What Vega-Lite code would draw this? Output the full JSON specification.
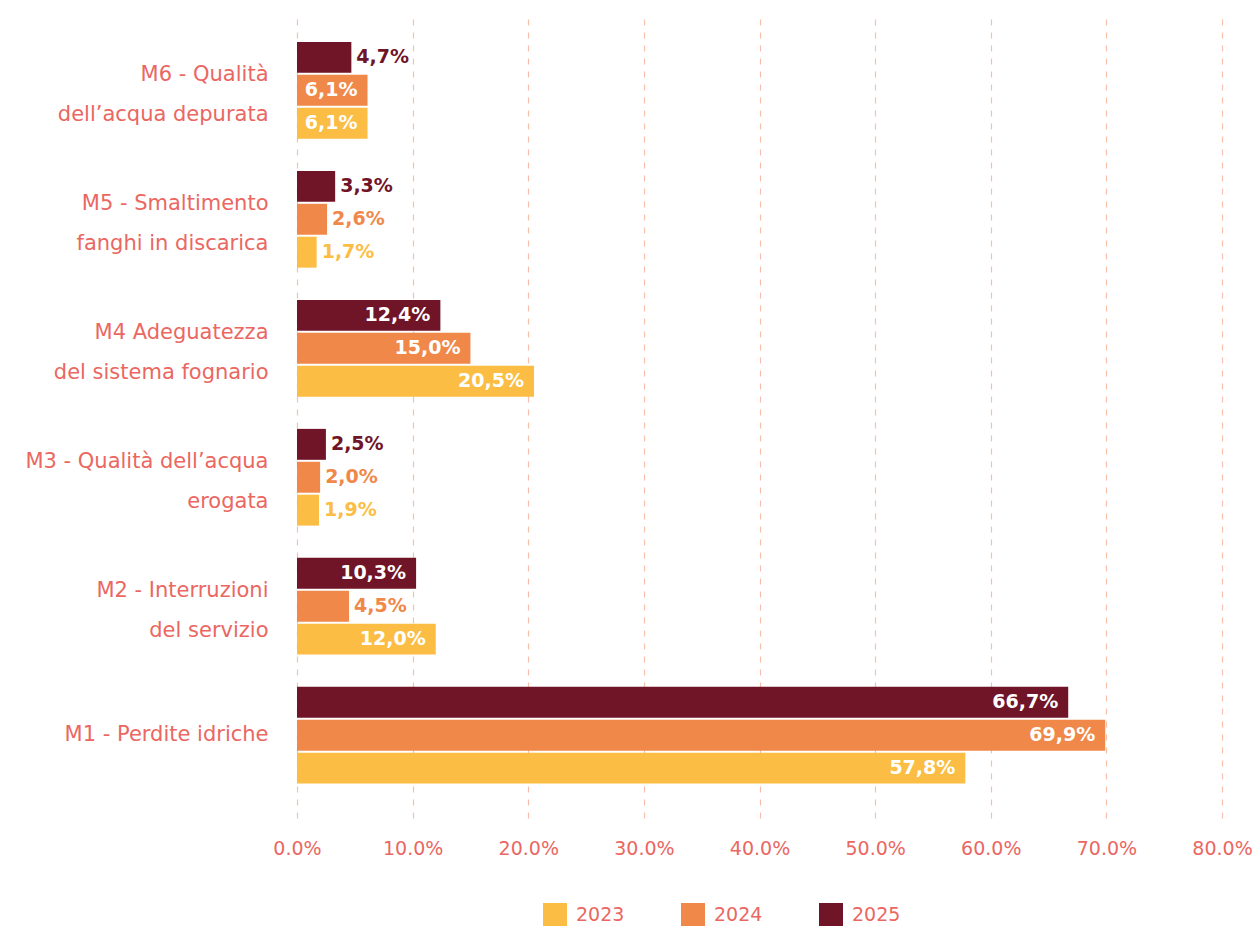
{
  "$schema": "https://vega.github.io/schema/vega-lite/v6.json",
  "autosize": {"type": "none"},
  "padding": {"left": 297, "top": 17, "right": 34, "bottom": 108},
  "width": 925,
  "height": 801,
  "background": "white",
  "config": {
    "view": {"stroke": null},
    "font": "DejaVu Sans",
    "locale": {"number": {"decimal": ",", "thousands": ".", "grouping": [3], "currency": ["", " €"]}}
  },
  "data": {
    "values": [
      {"cat": "M6 - Qualità|dell’acqua depurata", "year": "2025", "value": 0.047},
      {"cat": "M6 - Qualità|dell’acqua depurata", "year": "2024", "value": 0.061},
      {"cat": "M6 - Qualità|dell’acqua depurata", "year": "2023", "value": 0.061},
      {"cat": "M5 - Smaltimento|fanghi in discarica", "year": "2025", "value": 0.033},
      {"cat": "M5 - Smaltimento|fanghi in discarica", "year": "2024", "value": 0.026},
      {"cat": "M5 - Smaltimento|fanghi in discarica", "year": "2023", "value": 0.017},
      {"cat": "M4 Adeguatezza|del sistema fognario", "year": "2025", "value": 0.124},
      {"cat": "M4 Adeguatezza|del sistema fognario", "year": "2024", "value": 0.150},
      {"cat": "M4 Adeguatezza|del sistema fognario", "year": "2023", "value": 0.205},
      {"cat": "M3 - Qualità dell’acqua|erogata", "year": "2025", "value": 0.025},
      {"cat": "M3 - Qualità dell’acqua|erogata", "year": "2024", "value": 0.020},
      {"cat": "M3 - Qualità dell’acqua|erogata", "year": "2023", "value": 0.019},
      {"cat": "M2 - Interruzioni|del servizio", "year": "2025", "value": 0.103},
      {"cat": "M2 - Interruzioni|del servizio", "year": "2024", "value": 0.045},
      {"cat": "M2 - Interruzioni|del servizio", "year": "2023", "value": 0.120},
      {"cat": "M1 - Perdite idriche", "year": "2025", "value": 0.667},
      {"cat": "M1 - Perdite idriche", "year": "2024", "value": 0.699},
      {"cat": "M1 - Perdite idriche", "year": "2023", "value": 0.578}
    ]
  },
  "encoding": {
    "y": {
      "field": "cat",
      "type": "nominal",
      "sort": [
        "M6 - Qualità|dell’acqua depurata",
        "M5 - Smaltimento|fanghi in discarica",
        "M4 Adeguatezza|del sistema fognario",
        "M3 - Qualità dell’acqua|erogata",
        "M2 - Interruzioni|del servizio",
        "M1 - Perdite idriche"
      ],
      "scale": {"paddingInner": 0.25, "paddingOuter": 0.23, "align": 0.42},
      "axis": {
        "title": null,
        "domain": false,
        "ticks": false,
        "grid": false,
        "labelPadding": 29,
        "labelFontSize": 21,
        "labelLineHeight": 40,
        "labelColor": "#EA6762",
        "labelLimit": 0,
        "labelOffset": {"condition": {"test": "indexof(datum.value, '|') >= 0", "value": -15}, "value": 0},
        "labelExpr": "split(datum.label, '|')"
      }
    },
    "yOffset": {
      "field": "year",
      "type": "nominal",
      "sort": ["2025", "2024", "2023"],
      "scale": {"paddingInner": 0.06, "paddingOuter": 0}
    },
    "x": {
      "field": "value",
      "type": "quantitative",
      "scale": {"domain": [0, 0.8], "nice": false},
      "axis": {
        "title": null,
        "values": [0, 0.1, 0.2, 0.3, 0.4, 0.5, 0.6, 0.7, 0.8],
        "labelExpr": "round(datum.value * 100) + '.0%'",
        "domain": false,
        "ticks": false,
        "grid": true,
        "gridColor": "#F7BFA9",
        "gridDash": [6, 7],
        "gridWidth": 1.2,
        "labelPadding": 21,
        "labelFontSize": 19,
        "labelColor": "#EA6762",
        "labelFlush": false,
        "labelOverlap": false
      }
    }
  },
  "layer": [
    {
      "mark": {"type": "bar"},
      "encoding": {
        "color": {
          "field": "year",
          "type": "nominal",
          "scale": {"domain": ["2023", "2024", "2025"], "range": ["#FBBD43", "#F0884A", "#701428"]},
          "legend": {
            "title": null,
            "orient": "none",
            "legendX": 246,
            "legendY": 886,
            "direction": "horizontal",
            "symbolType": "square",
            "symbolSize": 576,
            "symbolStrokeWidth": 0,
            "symbolOpacity": 1,
            "labelFontSize": 19,
            "labelColor": "#EA6762",
            "labelOffset": 9,
            "columnPadding": 56
          }
        }
      }
    },
    {
      "transform": [{"filter": "datum.value >= 0.05"}],
      "mark": {"type": "text", "align": "right", "baseline": "middle", "dx": -10, "fontWeight": "bold", "fontSize": 19, "color": "white"},
      "encoding": {
        "text": {"field": "value", "type": "quantitative", "format": ".1%"}
      }
    },
    {
      "transform": [{"filter": "datum.value < 0.05"}],
      "mark": {"type": "text", "align": "left", "baseline": "middle", "dx": 5, "fontWeight": "bold", "fontSize": 19},
      "encoding": {
        "text": {"field": "value", "type": "quantitative", "format": ".1%"},
        "color": {"field": "year", "type": "nominal", "legend": null}
      }
    }
  ]
}
